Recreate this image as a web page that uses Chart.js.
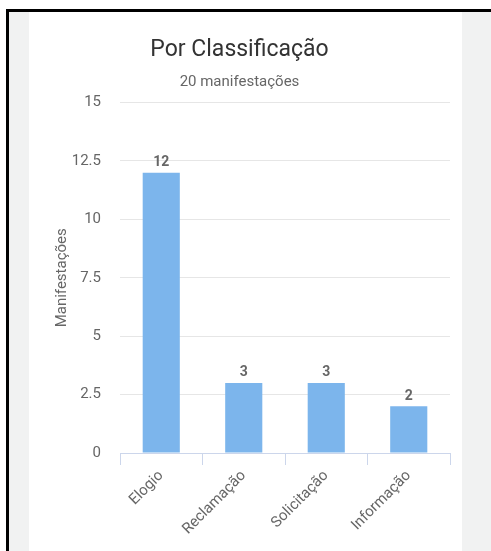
<!DOCTYPE html>
<html>
<head>
<meta charset="utf-8">
<script src="https://cdn.jsdelivr.net/npm/chart.js@4"></script>
<style>
  html, body { margin: 0; padding: 0; background: #ffffff; width: 491px; height: 551px; overflow: hidden; }
  #frame { position: absolute; left: 6px; top: 9px; width: 485px; height: 542px;
           border-left: 3px solid #000; border-top: 3px solid #000; background: #f1f2f2; box-sizing: border-box; }
  #card { position: absolute; left: 29px; top: 12px; width: 433px; height: 539px; background: #ffffff; }
  canvas { display: block; }
</style>
</head>
<body>
<div id="frame"></div>
<div id="card"><canvas id="c" width="433" height="539"></canvas></div>
<script>
const categories = ["Elogio", "Reclamação", "Solicitação", "Informação"];
const values = [12, 3, 3, 2];
const titleText = "Por Classificação";
const subtitleText = "20 manifestações";
const yAxisTitle = "Manifestações";

const valueLabels = {
  id: 'valueLabels',
  afterDatasetsDraw(chart) {
    const ctx = chart.ctx;
    const meta = chart.getDatasetMeta(0);
    ctx.save();
    ctx.font = 'bold 14px Roboto';
    ctx.fillStyle = '#666666';
    ctx.textAlign = 'center';
    ctx.textBaseline = 'bottom';
    meta.data.forEach((bar, i) => {
      ctx.fillText(String(chart.data.datasets[0].data[i]), bar.x, bar.y - 3);
    });
    ctx.restore();
  }
};

new Chart(document.getElementById('c'), {
  type: 'bar',
  data: {
    labels: categories,
    datasets: [{
      data: values,
      backgroundColor: '#7cb5ec',
      borderWidth: 0,
      categoryPercentage: 1,
      barPercentage: 0.45
    }]
  },
  options: {
    responsive: false,
    animation: false,
    layout: { padding: { left: 0, right: 12, top: 0, bottom: 0 } },
    plugins: {
      legend: { display: false },
      tooltip: { enabled: false },
      title: {
        display: true, text: titleText, color: '#333333',
        font: { family: 'Roboto', size: 23, weight: 'normal' },
        padding: { top: 24, bottom: 4 }
      },
      subtitle: {
        display: true, text: subtitleText, color: '#666666',
        font: { family: 'Roboto', size: 15, weight: 'normal' },
        padding: { top: 6, bottom: 11 }
      }
    },
    scales: {
      x: {
        grid: { display: true, drawOnChartArea: false, drawTicks: true, tickLength: 12, color: '#ccd6eb', offset: true },
        border: { display: true, color: '#ccd6eb' },
        ticks: { color: '#666666', font: { family: 'Roboto', size: 15 }, maxRotation: 45, minRotation: 45, padding: 2 },
        afterFit(scale) { scale.height = 98; }
      },
      y: {
        min: 0, max: 15,
        ticks: { stepSize: 2.5, color: '#666666', font: { family: 'Roboto', size: 15 }, padding: 19 },
        grid: { color: '#e6e6e6', drawTicks: false },
        border: { display: false },
        title: { display: true, text: yAxisTitle, color: '#666666', font: { family: 'Roboto', size: 15 }, padding: { top: 24, bottom: 0 } },
        afterFit(scale) { scale.width = 91; }
      }
    }
  },
  plugins: [valueLabels]
});
</script>
</body>
</html>
